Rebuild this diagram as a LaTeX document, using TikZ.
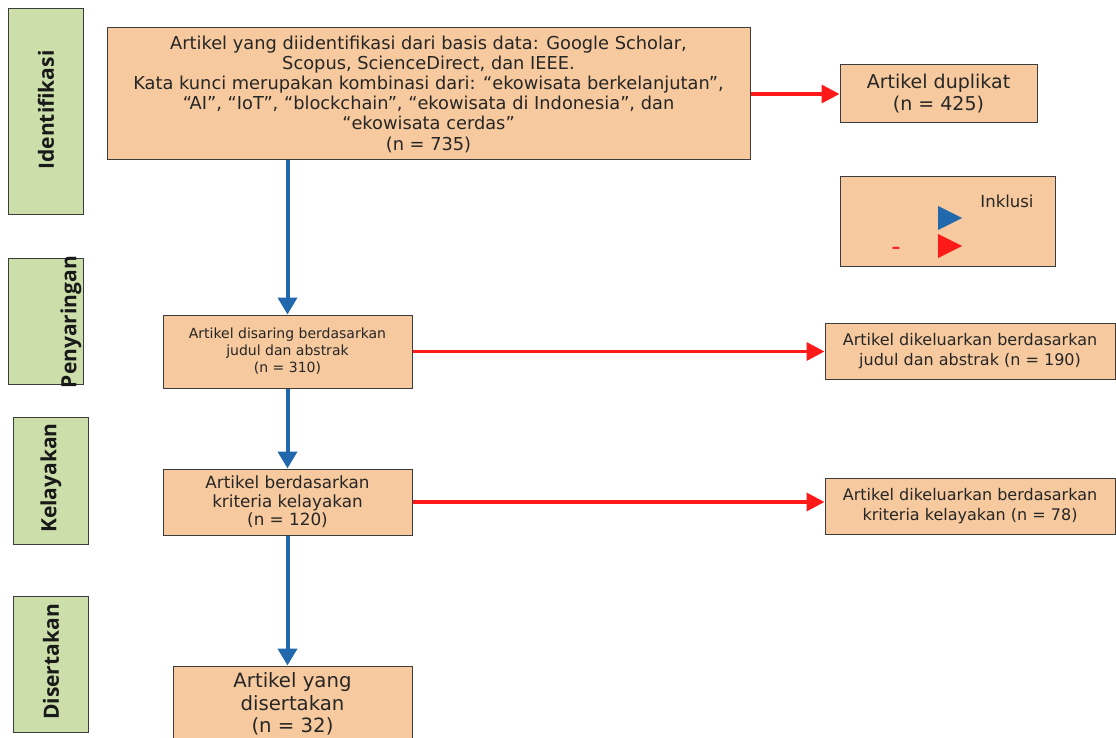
\documentclass[tikz,border=0pt]{standalone}
\usepackage{fontspec}
\setmainfont{DejaVu Sans}
\newfontfamily\labfont{Open Sans}
\usetikzlibrary{arrows.meta}
\definecolor{peach}{RGB}{246,201,158}
\definecolor{lgreen}{RGB}{204,223,170}
\definecolor{fblue}{RGB}{33,104,172}
\definecolor{fred}{RGB}{255,26,26}
\definecolor{edge}{RGB}{60,60,60}
\newcommand\fsz[2]{\fontsize{#1}{#2}\selectfont}
\tikzset{
 box/.style={draw=edge, line width=1pt, fill=peach, inner sep=0pt, align=center, text=black!85},
 stage/.style={draw=edge, line width=1pt, fill=lgreen, inner sep=0pt},
 stagetext/.style={rotate=90, inner sep=0pt, text=black!90, font=\labfont\bfseries\fsz{21}{24}},
 flow/.style={draw=fblue, line width=4pt, -{Triangle[width=19pt,length=17pt]}},
 excl/.style={draw=fred, line width=3.5pt, -{Triangle[width=18pt,length=18pt]}},
}
\begin{document}
\begin{tikzpicture}[x=1pt,y=-1pt]
\useasboundingbox (0,0) rectangle (1116,738);
% stage labels
\node[stage, minimum width=75pt, minimum height=206pt] (s1) at (45.5,112) {};
\node[stagetext] (t1) at (46,110) {Identifikasi};
\node[stage, minimum width=75pt, minimum height=126pt] (s2) at (45.5,321) {};
\node[stagetext] (t2) at (71,322) {Penyaringan};
\node[stage, minimum width=75pt, minimum height=127pt] (s3) at (50.5,480.5) {};
\node[stagetext] (t3) at (51,478) {Kelayakan};
\node[stage, minimum width=75pt, minimum height=136pt] (s4) at (50.5,664) {};
\node[stagetext] (t4) at (51,662) {Disertakan};
% main flow
\node[box, minimum width=643pt, minimum height=132pt, font=\fsz{17.8}{20.2}] (main) at (428.5,94)
 {Artikel yang diidentifikasi dari basis data: Google Scholar,\\
  Scopus, ScienceDirect, dan IEEE.\\
  Kata kunci merupakan kombinasi dari: “ekowisata berkelanjutan”,\\
  “AI”, “IoT”, “blockchain”, “ekowisata di Indonesia”, dan\\
  “ekowisata cerdas”\\
  (n = 735)};
\node[box, minimum width=249pt, minimum height=73pt, font=\fsz{14}{17}] (scr) at (287.5,351.5)
 {Artikel disaring berdasarkan\\ judul dan abstrak\\ (n = 310)};
\node[box, minimum width=249pt, minimum height=66pt, font=\fsz{16.8}{18.5}] (kel) at (287.5,502)
 {Artikel berdasarkan\\ kriteria kelayakan\\ (n = 120)};
\node[box, minimum width=239pt, minimum height=76pt, font=\fsz{19.7}{22.5}] (fin) at (292.5,704)
 {Artikel yang\\ disertakan\\ (n = 32)};
% exclusions
\node[box, minimum width=197pt, minimum height=58pt, font=\fsz{19}{22}] (dup) at (938.5,94)
 {Artikel duplikat\\ (n = 425)};
\node[box, minimum width=290pt, minimum height=56pt, font=\fsz{16}{19.5}] (ex1) at (970,351)
 {Artikel dikeluarkan berdasarkan\\ judul dan abstrak (n = 190)};
\node[box, minimum width=290pt, minimum height=56pt, font=\fsz{16}{19.5}] (ex2) at (970,506)
 {Artikel dikeluarkan berdasarkan\\ kriteria kelayakan (n = 78)};
% legend
\node[box, minimum width=215pt, minimum height=89pt] (leg) at (947.5,221.5) {};
\node[text=black!85, font=\fsz{16.5}{19}, inner sep=0pt] (inkl) at (1007,201) {Inklusi};
\node[text=fred, font=\fsz{26}{28}, inner sep=0pt] (dash) at (896,251) {-};
\fill[fblue] (938,206) -- (962,218) -- (938,230) -- cycle;
\fill[fred] (938,234) -- (962,246) -- (938,258) -- cycle;
% connectors
\draw[flow] (main.south -| scr.north) -- (scr.north);
\draw[flow] (scr.south) -- (kel.north);
\draw[flow] (kel.south) -- (kel.south |- fin.north);
\draw[excl] (main.east) -- (dup.west);
\draw[excl] (scr.east) -- (scr.east -| ex1.west);
\draw[excl] (kel.east) -- (kel.east -| ex2.west);
\end{tikzpicture}
\end{document}
